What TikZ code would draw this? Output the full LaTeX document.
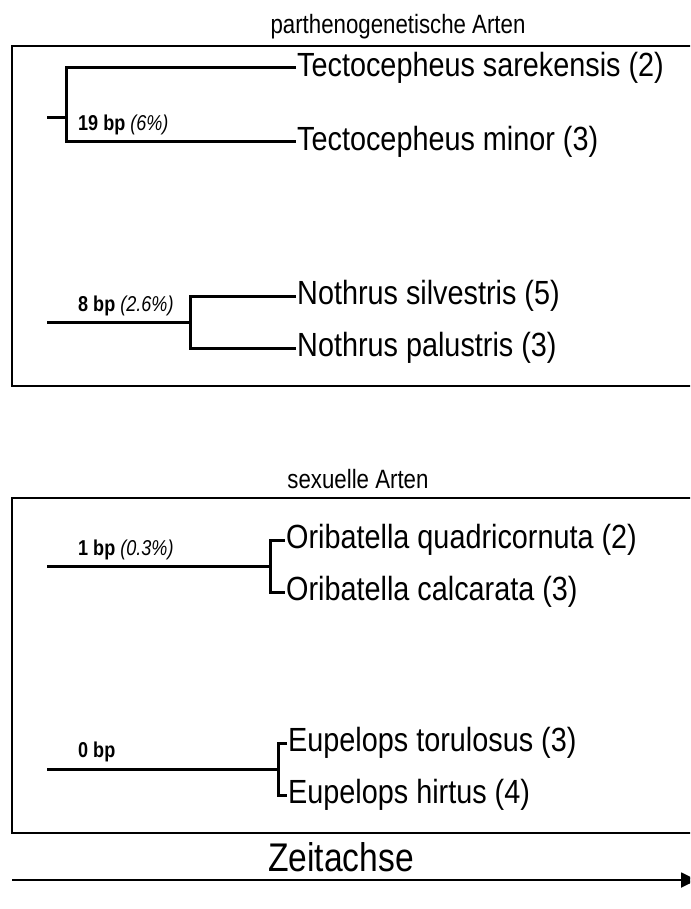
\documentclass[tikz,border=0pt]{standalone}
\usepackage{fontspec}
\setmainfont{Liberation Sans}
\usetikzlibrary{arrows.meta,positioning}

\newcommand{\narrow}[1]{\scalebox{0.84}[1]{#1}}
\newcommand{\wider}[1]{\scalebox{0.86}[1]{#1}}

\begin{document}
\begin{tikzpicture}[
    x=1pt, y=-1pt,
    frame/.style={draw, line width=1.7pt},
    branch/.style={line width=3pt, line join=miter},
    taxon/.style={anchor=west, inner sep=1pt, font=\fontsize{33.5}{38}\selectfont},
    support/.style={anchor=west, inner sep=0pt, font=\fontsize{21.5}{24}\selectfont},
    heading/.style={font=\fontsize{26.5}{30}\selectfont},
    axis/.style={line width=1.8pt, -{Triangle[length=16pt, width=15pt]}}
]
    \useasboundingbox (0,0) rectangle (690,909);
    \clip (0,0) rectangle (690,909);

    % parthenogenetic species
    \node[heading] (parth-title) at (398,27) {\narrow{parthenogenetische Arten}};
    \draw[frame] (12,46) rectangle (700,386);

    \coordinate (tect-root) at (47,118);
    \coordinate (tect-split) at (66,118);
    \node[taxon] (tect-sar) at (296,68) {\wider{Tectocepheus sarekensis (2)}};
    \node[taxon] (tect-min) at (296,142) {\wider{Tectocepheus minor (3)}};
    \node[support] (tect-bp) at (78,125) {\narrow{\textbf{19 bp} \textit{(6\%)}}};
    \draw[branch] (tect-root) -- (tect-split);
    \draw[branch] (tect-sar.west) -| (tect-split) |- (tect-min.west);

    \coordinate (noth-root) at (47,322);
    \coordinate (noth-split) at (190,322);
    \node[taxon] (noth-sil) at (296,296) {\wider{Nothrus silvestris (5)}};
    \node[taxon] (noth-pal) at (296,348) {\wider{Nothrus palustris (3)}};
    \node[support] (noth-bp) at (78,306) {\narrow{\textbf{8 bp} \textit{(2.6\%)}}};
    \draw[branch] (noth-root) -- (noth-split);
    \draw[branch] (noth-sil.west) -| (noth-split) |- (noth-pal.west);

    % sexual species
    \node[heading] (sex-title) at (358,479) {\narrow{sexuelle Arten}};
    \draw[frame] (12,498) rectangle (700,833);

    \coordinate (orib-root) at (47,566);
    \coordinate (orib-split) at (270,566);
    \node[taxon] (orib-qua) at (285,540) {\wider{Oribatella quadricornuta (2)}};
    \node[taxon] (orib-cal) at (285,592) {\wider{Oribatella calcarata (3)}};
    \node[support] (orib-bp) at (78,550) {\narrow{\textbf{1 bp} \textit{(0.3\%)}}};
    \draw[branch] (orib-root) -- (orib-split);
    \draw[branch] (orib-qua.west) -| (orib-split) |- (orib-cal.west);

    \coordinate (eup-root) at (47,769);
    \coordinate (eup-split) at (278,769);
    \node[taxon] (eup-tor) at (287,743) {\wider{Eupelops torulosus (3)}};
    \node[taxon] (eup-hir) at (287,795) {\wider{Eupelops hirtus (4)}};
    \node[support] (eup-bp) at (78,752) {\narrow{\textbf{0 bp}}};
    \draw[branch] (eup-root) -- (eup-split);
    \draw[branch] (eup-tor.west) -| (eup-split) |- (eup-hir.west);

    % time axis
    \node[font=\fontsize{40}{46}\selectfont] (time-label) at (341,857) {\narrow{Zeitachse}};
    \coordinate (time-start) at (12,880);
    \coordinate (time-end) at (697,880);
    \draw[axis] (time-start) -- (time-end);
\end{tikzpicture}
\end{document}
